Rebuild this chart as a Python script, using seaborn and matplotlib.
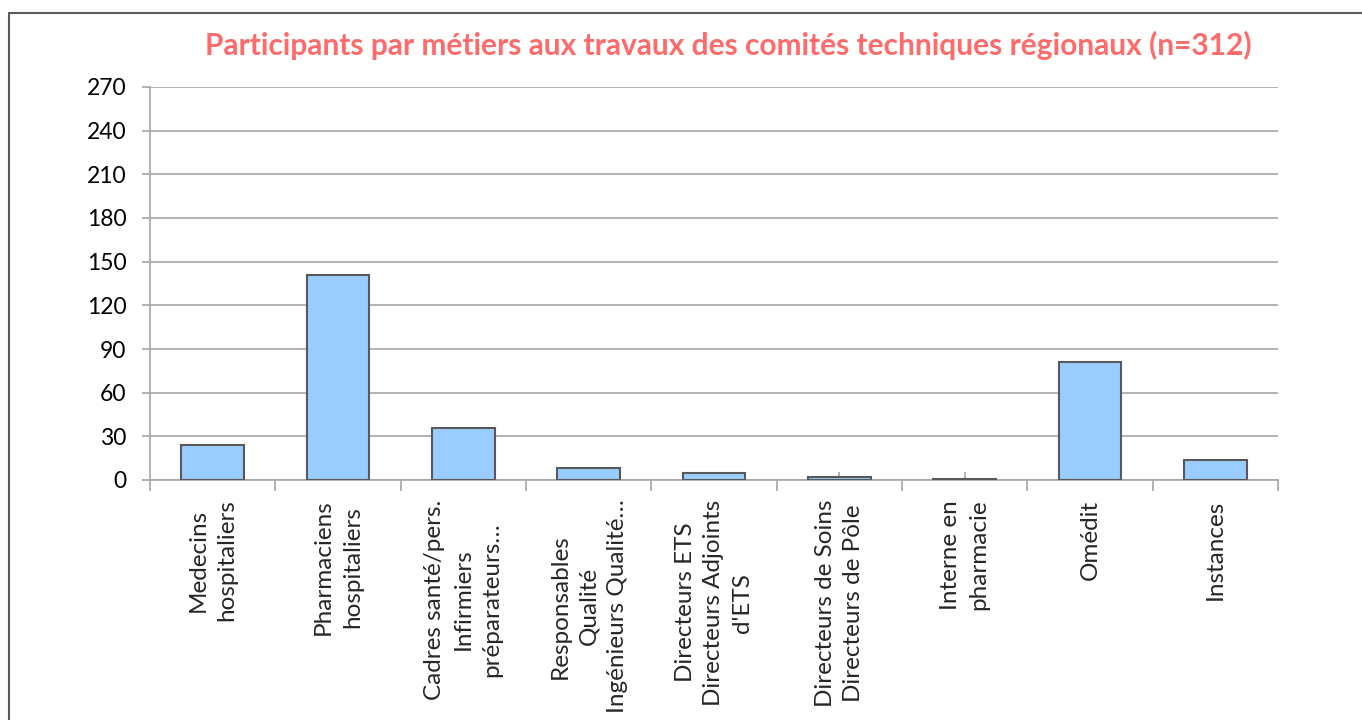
import matplotlib
matplotlib.use("Agg")
import matplotlib.pyplot as plt
import seaborn as sns
import pandas as pd
import numpy as np
from matplotlib.lines import Line2D
from matplotlib.ticker import FixedLocator

# données
metiers = [
    "Medecins\nhospitaliers",
    "Pharmaciens\nhospitaliers",
    "Cadres santé/pers.\nInfirmiers\npréparateurs…",
    "Responsables\nQualité\nIngénieurs Qualité…",
    "Directeurs ETS\nDirecteurs Adjoints\nd'ETS",
    "Directeurs de Soins\nDirecteurs de Pôle",
    "Interne en\npharmacie",
    "Omédit",
    "Instances",
]
participants = [24, 141, 36, 8, 5, 2, 1, 81, 14]
yticks = [0, 30, 60, 90, 120, 150, 180, 210, 240, 270]
titre = "Participants par métiers aux travaux des comités techniques régionaux (n=312)"

sns.set_theme(style="white")
plt.rcParams['font.family'] = ['Lato', 'DejaVu Sans']

df = pd.DataFrame({"metier": metiers, "n": participants})

fig = plt.figure(figsize=(13.62, 7.2), dpi=100)
W, H = 1362, 720
ax = fig.add_axes([150 / W, 1 - 480 / H, (1278 - 150) / W, (480 - 87) / H])

sns.barplot(data=df, x="metier", y="n", ax=ax, color="#99CCFF", width=0.5,
            edgecolor="#595959", linewidth=1.5, saturation=1, zorder=3)

ax.set_ylim(0, 270)
ax.set_xlim(-0.5, len(metiers) - 0.5)
ax.set_yticks(yticks)
ax.yaxis.grid(True, color="#A6A6A6", linewidth=1.2, zorder=0)
ax.set_xlabel("")
ax.set_ylabel("")

for s in ["top", "right"]:
    ax.spines[s].set_visible(False)
for s in ["left", "bottom"]:
    ax.spines[s].set_color("#A6A6A6")
    ax.spines[s].set_linewidth(1.2)

ax.tick_params(axis="y", which="major", direction="out", length=6, width=1.2,
               color="#A6A6A6", labelsize=16.5, labelcolor="black", pad=11, left=True)
ax.tick_params(axis="x", which="major", direction="in", length=6, width=1.2,
               color="#A6A6A6", pad=14, bottom=True)
ax.xaxis.set_minor_locator(FixedLocator(np.arange(-0.5, len(metiers), 1.0)))
ax.tick_params(axis="x", which="minor", direction="out", length=8, width=1.2,
               color="#A6A6A6", bottom=True)

ax.set_xticks(range(len(metiers)))
ax.set_xticklabels(metiers, rotation=90, ha="center", va="top",
                   multialignment="center", fontsize=17.5, linespacing=1.45)

fig.text(728 / W, 1 - 45 / H, titre, ha="center", va="center",
         fontsize=21.5, fontweight="bold", color="#FF6B6B")

# cadre extérieur
fig.add_artist(Line2D([9 / W, 1], [1 - 13 / H, 1 - 13 / H], transform=fig.transFigure,
                      color="#595959", linewidth=1.5))
fig.add_artist(Line2D([9 / W, 9 / W], [0, 1 - 13 / H], transform=fig.transFigure,
                      color="#595959", linewidth=1.5))

fig.savefig("out.png", dpi=100)
